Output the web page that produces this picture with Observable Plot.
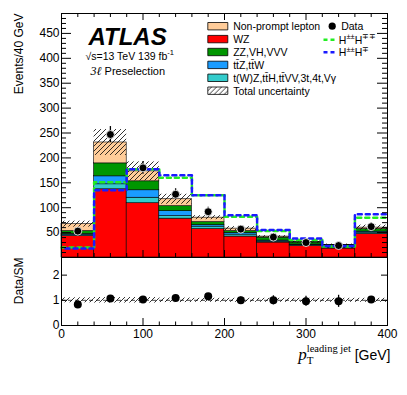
<!DOCTYPE html>
<html><head><meta charset="utf-8">
<script src="https://cdn.jsdelivr.net/npm/d3@7"></script>
<script src="https://cdn.jsdelivr.net/npm/@observablehq/plot@0.6"></script>
<style>
body{margin:0;background:#fff;}
#wrap{position:relative;width:407px;height:395px;background:#fff;overflow:hidden;}
#wrap svg{position:absolute;left:0;overflow:visible;}
</style></head><body><div id="wrap"></div>
<script>
// ---------------- data ----------------
const binEdges = [0,40,80,120,160,200,240,280,320,360,400];
const processes = ["WZ","t(W)Z,tt\u0304H,tt\u0304VV,3t,4t,V\u03b3","tt\u0304Z,tt\u0304W","ZZ,VH,VVV","Non-prompt lepton"];
const processColors = ["#ff0000","#33cccc","#1a9cff","#009600","#ffcc99"];
const wz        = [43,137,109,78,57,42,30,23,18,47];
const otherTop  = [2,10,11,5,5,4,2,1.5,1,3];
const ttv       = [2,16,15,10,3,3,2,1.5,1.5,2];
const zz        = [6,26,18,10,6,4,6,4,4,5];
const nonPrompt = [14,42,20,14,9,5,2,1,1,3];
const totalUnc  = [6,26,19,10,4,4,2,2,1.5,5];
const dataVal   = [53,247,180,127,92,57,41,30,24,62];
const dataErr   = [7,16,13,11,9,7,6,5,5,8];
const sigHH     = [20,151,177,160,125,82,53,35,22,80];   // H++H--
const sigHW     = [18,135,177,165,125,85,55,38,23,87];   // H++H-+
const ratioVal  = [0.83,1.07,1.03,1.09,1.16,1.0,1.0,0.96,0.96,1.03];
const ratioErr  = [0.06,0.06,0.07,0.08,0.1,0.13,0.18,0.2,0.24,0.12];
const ratioBand = [0.1,0.11,0.11,0.09,0.08,0.08,0.08,0.08,0.08,0.08];
const yMainTicks = [50,100,150,200,250,300,350,400,450];
const yMainMinor = [10,20,30,40,60,70,80,90,110,120,130,140,160,170,180,190,210,220,230,240,260,270,280,290,310,320,330,340,360,370,380,390,410,420,430,440,460,470,480];
const xMajorTicks = [0,100,200,300,400];
const xMinorTicks = [20,40,60,80,120,140,160,180,220,240,260,280,320,340,360,380];
const ratioTicks = [0,1,2];
const legendLabels = ["Non-prompt lepton","WZ","ZZ,VH,VVV","tt\u0304Z,tt\u0304W","t(W)Z,tt\u0304H,tt\u0304VV,3t,4t,V\u03b3","Total uncertainty"];
const signalLabels = ["H^{\u00b1\u00b1}H^{\u2213\u2213}","H^{\u00b1\u00b1}H^{\u2213}"];
const signalColors = ["#22ee22","#1a1aff"];

// ---------------- derived tables ----------------
const series = [wz, otherTop, ttv, zz, nonPrompt];
const stackRows = processes.flatMap((p,k)=>series[k].map((v,i)=>({process:p,x1:binEdges[i],x2:binEdges[i+1],value:v})));
const bins = wz.map((_,i)=>{
  const total = series.reduce((s,a)=>s+a[i],0);
  return {x1:binEdges[i],x2:binEdges[i+1],xc:(binEdges[i]+binEdges[i+1])/2,total,unc:totalUnc[i],
          data:dataVal[i],err:dataErr[i],r:ratioVal[i],rerr:ratioErr[i],band:ratioBand[i]};
});
const stepPts = arr => binEdges.map((e,i)=>({x:e,y:arr[Math.min(i,arr.length-1)]}));
const colorOf = name => processColors[processes.indexOf(name)];

// ---------------- layout ----------------
const W=407, mL=61, mR=20, mT=13, mainH=257;
const frameW = W-mL-mR, frameH = mainH-mT;
const ratioH = 138, ratioFrameH = 68;
const font = "Liberation Sans, Arial, Helvetica, sans-serif";
const serif = "Liberation Serif, Times New Roman, serif";

const swatch = {draw(ctx){ctx.rect(-10,-3.7,20,7.4);}};
const dashSym = {draw(ctx){ctx.moveTo(-6,0);ctx.lineTo(6,0);}};

const legendMarks = legendLabels.flatMap((lab,i)=>{
  const cy = 12.7 + i*12.9;
  const fill = lab==="Total uncertainty" ? "url(#hatchMain)" : colorOf(lab);
  return [
    Plot.dot([lab],{frameAnchor:"top-left",dx:156.3,dy:cy,symbol:swatch,r:5,fill,stroke:"#000",strokeWidth:0.8}),
    Plot.text([lab],{frameAnchor:"top-left",dx:171.7,dy:cy+3.8,text:d=>d,textAnchor:"start",lineAnchor:"bottom",fontSize:10.5,fill:"#000"})
  ];
});
const signalLegend = signalLabels.flatMap((lab,i)=>{
  const cy = 26.3 + i*12.4;
  return [
    Plot.dot([lab],{frameAnchor:"top-left",dx:268,dy:cy,symbol:dashSym,r:5,fill:"none",stroke:signalColors[i],strokeWidth:2.5,strokeDasharray:"4,3"}),
    Plot.text([lab],{frameAnchor:"top-left",dx:277.3,dy:cy+3.8,text:d=>d,textAnchor:"start",lineAnchor:"bottom",fontSize:10.5,fill:"#000"})
  ];
});

const main = Plot.plot({
  width:W, height:mainH, marginLeft:mL, marginRight:mR, marginTop:mT, marginBottom:0,
  style:{fontFamily:font,fontSize:"12px",background:"transparent",overflow:"visible",color:"#000"},
  x:{domain:[0,400],axis:null},
  y:{domain:[0,490],ticks:yMainTicks,tickSize:0,tickPadding:2,label:null,tickFormat:d=>String(d)},
  color:{domain:processes,range:processColors},
  marks:[
    Plot.rectY(stackRows,{x1:"x1",x2:"x2",y:"value",fill:"process",stroke:"#000",strokeWidth:0.6}),
    Plot.rectY(bins,{x1:"x1",x2:"x2",y1:d=>d.total-d.unc,y2:d=>d.total+d.unc,fill:"url(#hatchMain)"}),
    Plot.line(stepPts(sigHH),{x:"x",y:"y",curve:"step-after",stroke:signalColors[0],strokeWidth:2.5,strokeDasharray:"4,4"}),
    Plot.line(stepPts(sigHW),{x:"x",y:"y",curve:"step-after",stroke:signalColors[1],strokeWidth:2.5,strokeDasharray:"4,4",strokeDashoffset:4}),
    Plot.ruleX(bins,{x:"xc",y1:d=>d.data-d.err,y2:d=>d.data+d.err,stroke:"#000",strokeWidth:1.3}),
    Plot.dot(bins,{x:"xc",y:"data",r:4,fill:"#000",stroke:"#fff",strokeWidth:0.8}),
    // inner ticks
    Plot.ruleY(yMainTicks,{insetRight:frameW-10,stroke:"#000"}),
    Plot.ruleY(yMainMinor,{insetRight:frameW-5,stroke:"#000"}),
    Plot.ruleY(yMainTicks,{insetLeft:frameW-10,stroke:"#000"}),
    Plot.ruleY(yMainMinor,{insetLeft:frameW-5,stroke:"#000"}),
    Plot.ruleX(xMajorTicks,{insetBottom:frameH-7,stroke:"#000"}),
    Plot.ruleX(xMinorTicks,{insetBottom:frameH-4,stroke:"#000"}),
    Plot.ruleX(xMajorTicks,{insetTop:frameH-7,stroke:"#000"}),
    Plot.ruleX(xMinorTicks,{insetTop:frameH-4,stroke:"#000"}),
    Plot.frame({stroke:"#000",strokeWidth:1}),
    // texts
    Plot.text(["Events/40 GeV"],{frameAnchor:"top-left",dx:-39,dy:0,rotate:-90,textAnchor:"end",lineAnchor:"bottom",fontSize:12,fill:"#000"}),
    Plot.text(["ATLAS"],{frameAnchor:"top-left",dx:27,dy:31,textAnchor:"start",lineAnchor:"bottom",fontSize:24,fontWeight:"bold",fontStyle:"italic",fill:"#000"}),
    Plot.text(["\u221as=13 TeV 139 fb^{-1}"],{frameAnchor:"top-left",dx:24,dy:46,textAnchor:"start",lineAnchor:"bottom",fontSize:10.5,fill:"#000"}),
    Plot.text(["3\u2113 Preselection"],{frameAnchor:"top-left",dx:29,dy:61,textAnchor:"start",lineAnchor:"bottom",fontSize:11,fill:"#000"}),
    ...legendMarks,
    Plot.dot(["Data"],{frameAnchor:"top-left",dx:270.7,dy:12.7,r:3.6,fill:"#000"}),
    Plot.text(["Data"],{frameAnchor:"top-left",dx:279.7,dy:16.5,textAnchor:"start",lineAnchor:"bottom",fontSize:10.5,fill:"#000"}),
    ...signalLegend
  ]
});

const ratio = Plot.plot({
  width:W, height:ratioH, marginLeft:mL, marginRight:mR, marginTop:0, marginBottom:ratioH-ratioFrameH,
  style:{fontFamily:font,fontSize:"12px",background:"transparent",overflow:"visible",color:"#000"},
  x:{domain:[0,400],ticks:xMajorTicks,tickSize:0,tickPadding:3.5,label:null,tickFormat:d=>String(d)},
  y:{domain:[0,2.7],ticks:ratioTicks,tickSize:0,tickPadding:2,label:null,tickFormat:d=>String(d)},
  marks:[
    Plot.rectY(bins,{x1:"x1",x2:"x2",y1:d=>1-d.band,y2:d=>1+d.band,fill:"url(#hatchRatio)"}),
    Plot.ruleY([1],{stroke:"#000",strokeWidth:0.7,strokeDasharray:"4,3"}),
    Plot.ruleX(bins,{x:"xc",y1:d=>d.r-d.rerr,y2:d=>d.r+d.rerr,stroke:"#000",strokeWidth:1.3}),
    Plot.dot(bins,{x:"xc",y:"r",r:4,fill:"#000"}),
    Plot.ruleY(ratioTicks,{insetRight:frameW-6,stroke:"#000"}),
    Plot.ruleY(ratioTicks,{insetLeft:frameW-6,stroke:"#000"}),
    Plot.ruleX(xMajorTicks,{insetTop:ratioFrameH-7,stroke:"#000"}),
    Plot.ruleX(xMinorTicks,{insetTop:ratioFrameH-3.5,stroke:"#000"}),
    Plot.frame({stroke:"#000",strokeWidth:1}),
    Plot.text(["Data/SM"],{frameAnchor:"top-left",dx:-39,dy:0,rotate:-90,textAnchor:"end",lineAnchor:"bottom",fontSize:12,fill:"#000"}),
    Plot.text(["p_T^leading jet [GeV]"],{frameAnchor:"bottom-right",dx:3,dy:34,textAnchor:"end",lineAnchor:"bottom",fontSize:14,fill:"#000"})
  ]
});

// ---------------- assemble ----------------
const wrap = document.getElementById("wrap");
main.style.top = "0px";
ratio.style.top = mainH + "px";
wrap.appendChild(main);
wrap.appendChild(ratio);

function addHatch(svg, id){
  const defs = d3.select(svg).insert("defs",":first-child");
  const p = defs.append("pattern").attr("id",id).attr("patternUnits","userSpaceOnUse").attr("width",5).attr("height",5);
  p.append("path").attr("d","M0,5L5,0M-1,1L1,-1M4,6L6,4").attr("stroke","#000").attr("stroke-width",0.8).attr("fill","none");
}
addHatch(main,"hatchMain");
addHatch(ratio,"hatchRatio");

function rich(el, str, size){
  const t = d3.select(el); t.text(null);
  const parts = str.split(/(\^\{[^}]*\}|_\{[^}]*\})/).filter(s=>s);
  let shift = 0;
  for (const p of parts){
    let target = 0, txt = p, fs = size;
    if (p.startsWith("^{")){target = -0.42*size; txt = p.slice(2,-1); fs = size*0.72;}
    else if (p.startsWith("_{")){target = 0.3*size; txt = p.slice(2,-1); fs = size*0.72;}
    t.append("tspan").attr("dy", target-shift).attr("font-size", fs).text(txt);
    shift = target;
  }
}
d3.selectAll("#wrap svg text").each(function(){
  const s = this.textContent;
  if (s.includes("^{")) rich(this, s, 10.5);
  else if (s === "3\u2113 Preselection"){
    const t = d3.select(this); t.text(null);
    t.append("tspan").attr("font-family",serif).attr("font-style","italic").attr("font-size",12).text("3\u2113");
    t.append("tspan").attr("font-size",11).text(" Preselection");
  } else if (s === "p_T^leading jet [GeV]"){
    const t = d3.select(this); t.text(null);
    t.append("tspan").attr("font-family",serif).attr("font-style","italic").attr("font-size",17).text("p");
    t.append("tspan").attr("font-family",serif).attr("font-size",11).attr("dy",4).text("T");
    t.append("tspan").attr("font-family",serif).attr("font-size",10.5).attr("dx",-6.7).attr("dy",-12).text("leading jet");
    t.append("tspan").attr("font-size",14).attr("dy",8).text(" [GeV]");
  }
});
</script></body></html>
